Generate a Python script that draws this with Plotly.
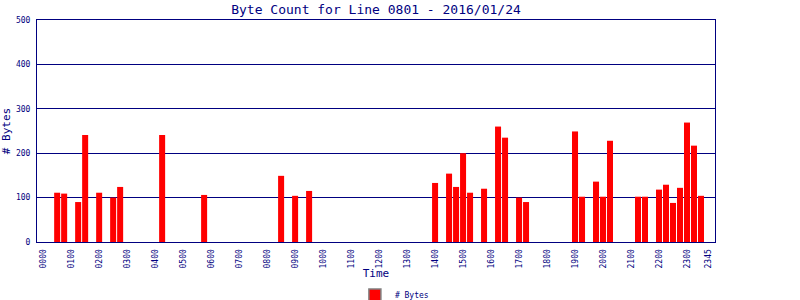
import plotly.graph_objects as go

# 15-minute time slots 0000 .. 2345
times = ["%02d%02d" % (h, m) for h in range(24) for m in (0, 15, 30, 45)]
tick_labels = ["%02d00" % h for h in range(24)] + ["2345"]

byte_counts = [
    0, 0, 111, 109, 0, 90, 241, 0,
    111, 0, 100, 124, 0, 0, 0, 0,
    0, 241, 0, 0, 0, 0, 0, 106,
    0, 0, 0, 0, 0, 0, 0, 0,
    0, 0, 149, 0, 104, 0, 115, 0,
    0, 0, 0, 0, 0, 0, 0, 0,
    0, 0, 0, 0, 0, 0, 0, 0,
    133, 0, 154, 124, 200, 111, 0, 120,
    0, 260, 235, 0, 100, 90, 0, 0,
    0, 0, 0, 0, 249, 102, 0, 136,
    102, 228, 0, 0, 0, 102, 102, 0,
    118, 129, 88, 122, 269, 217, 104, 0,
]

NAVY = "#000080"
FONT = "DejaVu Sans Mono"

fig = go.Figure()
fig.add_trace(go.Bar(
    x=times, y=byte_counts, name="# Bytes",
    marker=dict(color="#FF0000", line=dict(width=0)),
    showlegend=False,
))
# legend-only entry (gray-bordered swatch)
fig.add_trace(go.Bar(
    x=[None], y=[None], name="# Bytes",
    marker=dict(color="#FF0000", line=dict(color="#808080", width=1.5)),
    showlegend=True,
))

fig.update_layout(
    width=800, height=300,
    margin=dict(l=37, r=85, t=20, b=58, autoexpand=False),
    paper_bgcolor="white", plot_bgcolor="white",
    bargap=0.14,
    title=dict(text="Byte Count for Line 0801 - 2016/01/24",
               x=0.5, xref="paper", xanchor="center",
               y=0.97, yref="container", yanchor="middle",
               font=dict(family=FONT, size=13, color=NAVY)),
    font=dict(family=FONT, color=NAVY),
    legend=dict(orientation="h", x=0.493, xref="container", xanchor="center",
                y=0.017, yref="container", yanchor="middle",
                font=dict(family=FONT, size=8, color=NAVY),
                tracegroupgap=0),
    xaxis=dict(
        type="category", categoryorder="array", categoryarray=times,
        range=[-0.88, 96.0], automargin=False,
        tickmode="array", tickvals=tick_labels,
        ticktext=[" " + t for t in tick_labels],
        tickangle=-90, tickfont=dict(family=FONT, size=8, color=NAVY),
        showgrid=False, zeroline=False,
        showline=True, linecolor=NAVY, linewidth=1, mirror=True,
        ticks="", ticklabelstandoff=3,
        title=dict(text="Time", font=dict(family=FONT, size=11, color=NAVY)),
    ),
    yaxis=dict(
        range=[0, 500], tickvals=[0, 100, 200, 300, 400, 500], automargin=False,
        tickfont=dict(family=FONT, size=8, color=NAVY),
        showgrid=True, gridcolor=NAVY, gridwidth=1,
        zeroline=False,
        showline=True, linecolor=NAVY, linewidth=1, mirror=True,
        ticks="", ticklabelstandoff=4,
        title=dict(text="# Bytes", font=dict(family=FONT, size=11, color=NAVY)),
    ),
)

fig.write_html("out.html")
